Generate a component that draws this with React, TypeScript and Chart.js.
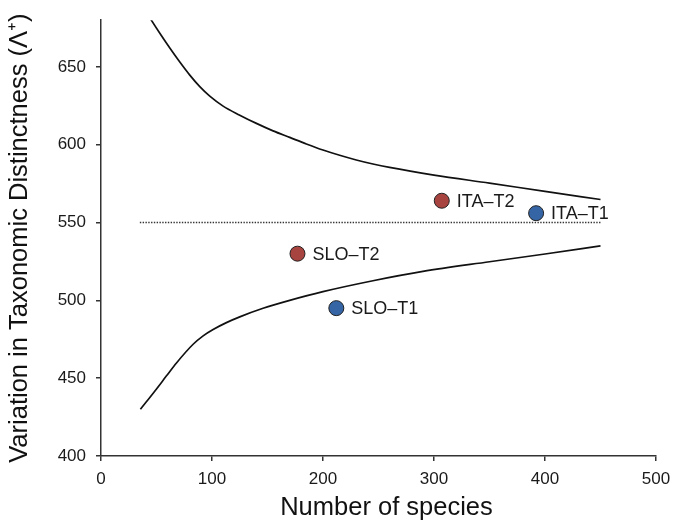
import React, { useEffect, useRef } from 'react';
import { Chart, registerables } from 'chart.js';

Chart.register(...registerables);

// Sites (points)
const sites = ['ITA–T2', 'ITA–T1', 'SLO–T2', 'SLO–T1'];
const speciesCount = [307, 392, 177, 212];
const deltaPlus = [564, 556, 530, 495];
const siteColors = ['#a84440', '#3565a5', '#a84440', '#3565a5'];

// Upper 95% probability limit
const upperX = [35, 45, 53, 62, 71, 80, 89, 98, 110, 125, 140, 155, 170, 185, 200, 215, 230, 245, 260, 300, 350, 400, 450];
const upperY = [692, 680.4, 671.6, 662.1, 653.1, 644.7, 637.3, 631.2, 624.8, 619, 613.7, 608.9, 604.7, 600.5, 596.6, 593.2, 590.2, 587.6, 585.4, 580.5, 575.3, 570, 564.8];

// Lower 95% probability limit
const lowerX = [35.5, 50, 59, 68, 83, 92, 101, 113, 125, 146, 170, 200, 245, 290, 350, 400, 450];
const lowerY = [430, 443.1, 451.5, 459.8, 471.8, 477.2, 481.3, 485.7, 489.4, 494.9, 500, 505.6, 512.6, 518.6, 524.8, 529.8, 535];

// Expected (mean) value
const meanX = [35, 450];
const meanY = [550, 550];

// Axes
const xMin = 0;
const xMax = 500;
const xStep = 100;
const yMin = 400;
const yMax = 680;
const yStep = 50;

const xTitle = 'Number of species';
const yTitle = 'Variation in Taxonomic Distinctness (Λ⁺)';

const FONT = '"Liberation Sans", Arial, Helvetica, sans-serif';

const toXY = (xs: number[], ys: number[]) => xs.map((x, i) => ({ x, y: ys[i] }));

const pointLabels = {
  id: 'pointLabels',
  afterDatasetsDraw(chart: any) {
    const meta = chart.getDatasetMeta(0);
    const ctx = chart.ctx;
    ctx.save();
    ctx.font = `18px ${FONT}`;
    ctx.fillStyle = '#1a1a1a';
    ctx.textAlign = 'left';
    ctx.textBaseline = 'middle';
    meta.data.forEach((pt: any, i: number) => {
      ctx.fillText(sites[i], pt.x + 15, pt.y + 1);
    });
    ctx.restore();
  },
};

// x-axis title, placed slightly right of the plot centre as in the source figure
const xAxisTitle = {
  id: 'xAxisTitle',
  afterDraw(chart: any) {
    const ctx = chart.ctx;
    const area = chart.chartArea;
    ctx.save();
    ctx.font = `25.5px ${FONT}`;
    ctx.fillStyle = '#111111';
    ctx.textAlign = 'center';
    ctx.textBaseline = 'alphabetic';
    ctx.fillText(xTitle, (area.left + area.right) / 2 + 8, chart.height - 5);
    ctx.restore();
  },
};

export default function App() {
  const canvasRef = useRef<HTMLCanvasElement | null>(null);

  useEffect(() => {
    document.body.style.margin = '0';
    const canvas = canvasRef.current;
    if (!canvas) return;
    const chart = new Chart(canvas, {
      type: 'scatter',
      data: {
        datasets: [
          {
            label: 'Sites',
            data: toXY(speciesCount, deltaPlus),
            backgroundColor: siteColors,
            borderColor: '#222222',
            borderWidth: 1,
            pointRadius: 7.5,
            pointHoverRadius: 7.5,
            showLine: false,
          },
          {
            label: 'Upper',
            data: toXY(upperX, upperY),
            showLine: true,
            borderColor: '#111111',
            borderWidth: 1.7,
            pointRadius: 0,
            cubicInterpolationMode: 'monotone',
            fill: false,
          },
          {
            label: 'Lower',
            data: toXY(lowerX, lowerY),
            showLine: true,
            borderColor: '#111111',
            borderWidth: 1.7,
            pointRadius: 0,
            cubicInterpolationMode: 'monotone',
            fill: false,
          },
          {
            label: 'Mean',
            data: toXY(meanX, meanY),
            showLine: true,
            borderColor: '#333333',
            borderWidth: 1.4,
            borderDash: [1.4, 1.4],
            pointRadius: 0,
            fill: false,
          },
        ],
      },
      options: {
        responsive: false,
        animation: false,
        events: [],
        layout: { padding: { top: 19, right: 17, left: 0, bottom: 0 } },
        plugins: {
          legend: { display: false },
          tooltip: { enabled: false },
        },
        scales: {
          x: {
            type: 'linear',
            min: xMin,
            max: xMax,
            ticks: {
              stepSize: xStep,
              color: '#1a1a1a',
              font: { family: FONT, size: 17 },
              padding: 8,
              maxRotation: 0,
            },
            grid: {
              drawOnChartArea: false,
              drawTicks: true,
              tickLength: 5,
              color: '#333333',
              lineWidth: 1.5,
            },
            border: { display: true, color: '#333333', width: 1.5 },
            title: { display: false },
            afterFit(scale: any) {
              scale.height = 64;
              scale.paddingRight = 15;
              scale.paddingLeft = 5;
            },
          },
          y: {
            type: 'linear',
            min: yMin,
            max: yMax,
            ticks: {
              stepSize: yStep,
              color: '#1a1a1a',
              font: { family: FONT, size: 17 },
              padding: 10,
            },
            afterBuildTicks(scale: any) {
              scale.ticks = scale.ticks.filter((t: any) => t.value % yStep === 0);
            },
            grid: {
              drawOnChartArea: false,
              drawTicks: true,
              tickLength: 5,
              color: '#333333',
              lineWidth: 1.5,
            },
            border: { display: true, color: '#333333', width: 1.5 },
            title: {
              display: true,
              text: yTitle,
              color: '#111111',
              font: { family: FONT, size: 25.5, lineHeight: 1.1 },
              padding: { top: 6, bottom: 0 },
            },
            afterFit(scale: any) {
              scale.width = 101;
            },
          },
        },
      },
      plugins: [pointLabels, xAxisTitle],
    } as any);
    return () => chart.destroy();
  }, []);

  return <canvas ref={canvasRef} width={673} height={520} style={{ display: 'block' }} />;
}
